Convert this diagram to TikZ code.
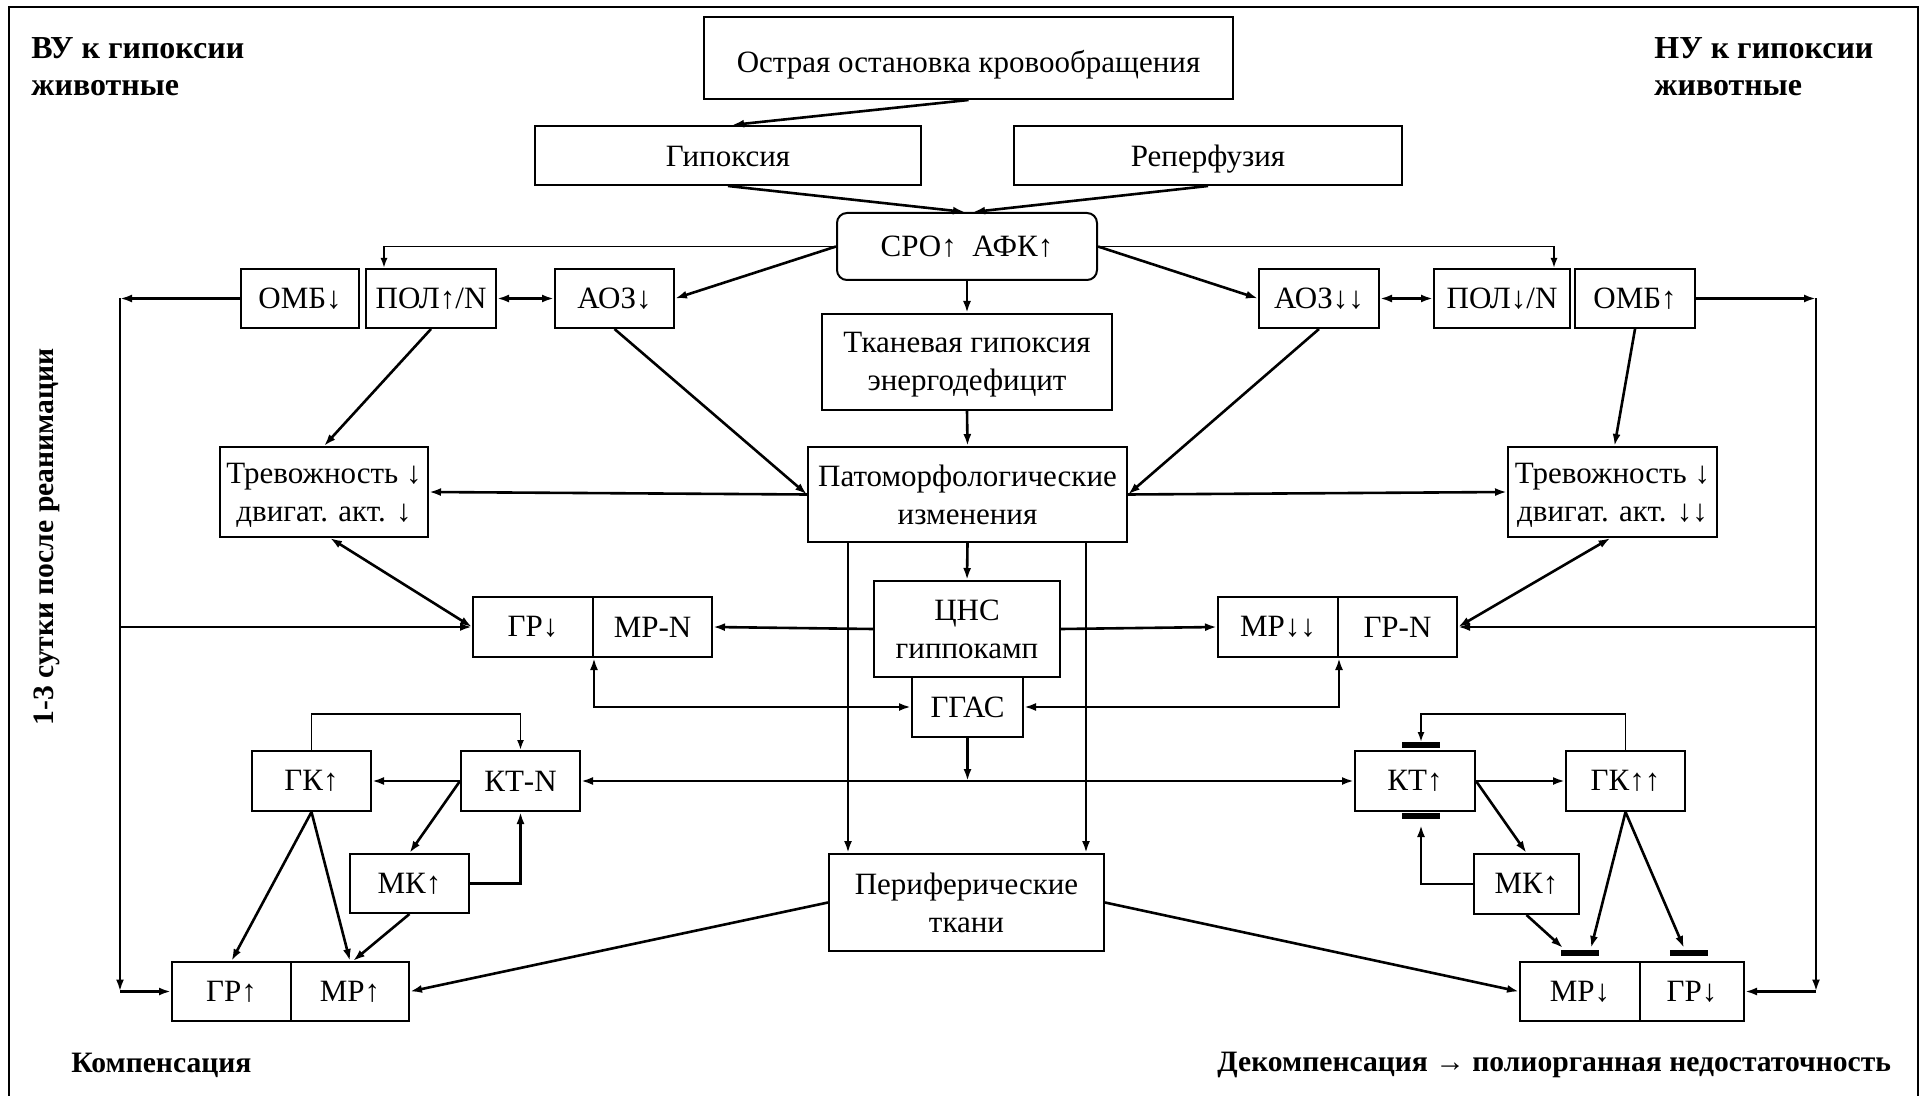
\documentclass[tikz,border=0pt]{standalone}
\usepackage{fontspec}
\setmainfont{Liberation Serif}
\usetikzlibrary{arrows.meta,calc}
\begin{document}
\begin{tikzpicture}[x=0.5pt,y=-0.5pt,
  box/.style={draw,line width=1pt,inner sep=0pt,align=center,font=\fontsize{15.5}{19}\selectfont},
  low/.style={text height=10.6pt,text depth=0pt},
  arr/.style={line width=1.3pt,-{Latex[length=6pt,width=4pt]}},
  tarr/.style={line width=0.9pt,-{Latex[length=5pt,width=3.5pt]}},
  darr/.style={line width=1.3pt,{Latex[length=6pt,width=4pt]}-{Latex[length=6pt,width=4pt]}},
  bar/.style={line width=3pt},
  lbl/.style={font=\fontsize{16}{18.5}\selectfont\bfseries,inner sep=0pt,align=left},
  slbl/.style={font=\fontsize{14.8}{18}\selectfont\bfseries,inner sep=0pt}]
\useasboundingbox (0,0) rectangle (1927,1096);
\fill[white] (0,0) rectangle (1927,1096);
\draw[line width=1pt] (9,1096) -- (9,7) -- (1918,7) -- (1918,1096);

% nodes
\node[box,text height=15pt,text depth=0pt,minimum width=264.5pt,minimum height=41pt] (ostr) at (968.5,58) {Острая остановка кровообращения};
\node[box,low,minimum width=193pt,minimum height=29.5pt] (gip) at (728,155.5) {Гипоксия};
\node[box,low,minimum width=194pt,minimum height=29.5pt] (reper) at (1208,155.5) {Реперфузия};
\node[box,rounded corners=5pt,minimum width=130pt,minimum height=33.5pt] (sro) at (967,246.5) {СРО↑\ \ АФК↑};
\node[box,minimum width=59pt,minimum height=29.5pt] (omb1) at (300,298.5) {ОМБ↓};
\node[box,minimum width=65pt,minimum height=29.5pt] (pol1) at (431,298.5) {ПОЛ↑/N};
\node[box,minimum width=59.5pt,minimum height=29.5pt] (aoz1) at (614.5,298.5) {АОЗ↓};
\node[box,minimum width=60pt,minimum height=29.5pt] (aoz2) at (1319,298.5) {АОЗ↓↓};
\node[box,minimum width=68pt,minimum height=29.5pt] (pol2) at (1502,298.5) {ПОЛ↓/N};
\node[box,minimum width=60pt,minimum height=29.5pt] (omb2) at (1635,298.5) {ОМБ↑};
\node[box,minimum width=145pt,minimum height=48pt] (tkan) at (967,362) {\strut Тканевая гипоксия\\энергодефицит};
\node[box,minimum width=159.5pt,minimum height=47.5pt] (pato) at (967.5,494.5) {Патоморфологические\\изменения};
\node[box,minimum width=104pt,minimum height=45pt] (trev1) at (324,492) {\strut Тревожность ↓\\двигат. акт. ↓};
\node[box,minimum width=104.5pt,minimum height=45pt] (trev2) at (1612.5,492) {\strut Тревожность ↓\\двигат. акт. ↓↓};
\node[box,minimum width=93pt,minimum height=48pt] (cns) at (967,629) {ЦНС\\гиппокамп};
\node[box,minimum width=55.5pt,minimum height=30pt] (ggas) at (967.5,707) {ГГАС};
\node[box,minimum width=60pt,minimum height=30pt] (gr1) at (533,627) {ГР↓};
\node[box,minimum width=59.5pt,minimum height=30pt] (mr1) at (652.5,627) {МР-N};
\node[box,minimum width=60pt,minimum height=30pt] (mr2) at (1278,627) {МР↓↓};
\node[box,minimum width=59.5pt,minimum height=30pt] (grn) at (1397.5,627) {ГР-N};
\node[box,minimum width=59.5pt,minimum height=30pt] (gk1) at (311.5,781) {ГК↑};
\node[box,minimum width=59.5pt,minimum height=30pt] (kt1) at (520.5,781) {КТ-N};
\node[box,minimum width=59.5pt,minimum height=29.5pt] (mk1) at (409.5,883.5) {МК↑};
\node[box,minimum width=59.5pt,minimum height=29.5pt] (grU) at (231.5,991.5) {ГР↑};
\node[box,minimum width=59pt,minimum height=29.5pt] (mrU) at (350,991.5) {МР↑};
\node[box,minimum width=60pt,minimum height=30pt] (kt2) at (1415,781) {КТ↑};
\node[box,minimum width=59.5pt,minimum height=30pt] (gk2) at (1625.5,781) {ГК↑↑};
\node[box,minimum width=52.5pt,minimum height=30pt] (mk2) at (1526.5,884) {МК↑};
\node[box,minimum width=60pt,minimum height=29.5pt] (mrD) at (1580,991.5) {МР↓};
\node[box,minimum width=52pt,minimum height=29.5pt] (grD) at (1692,991.5) {ГР↓};
\node[box,minimum width=137.5pt,minimum height=48.5pt] (peri) at (966.5,902.5) {Периферические\\ткани};

% labels
\node[lbl,anchor=north west] (vu) at (31,37) {ВУ к гипоксии\\животные};
\node[lbl,anchor=north west] (nu) at (1654,37) {НУ к гипоксии\\животные};
\node[slbl,rotate=90] (sut) at (47,537) {1-3 сутки после реанимации};
\node[slbl,anchor=base west] (komp) at (71,1072) {Компенсация};
\node[slbl,anchor=base west] (dekomp) at (1217,1071) {Декомпенсация → полиорганная недостаточность};

% top connectors
\draw[arr] (ostr.south) -- ([xshift=2pt]gip.north);
\draw[arr] (gip.south) -- ([xshift=-1pt]sro.north);
\draw[arr] (reper.south) -- ([xshift=3pt]sro.north);
\draw[arr] (sro.south) -- (tkan.north);
\draw[arr] (sro.west) -- (aoz1.east);
\draw[arr] (sro.east) -- (aoz2.west);
\draw[tarr] (sro.west) -| ([xshift=-23.5pt]pol1.north);
\draw[tarr] (sro.east) -| ([xshift=26pt]pol2.north);
\draw[darr] (pol1.east) -- (aoz1.west);
\draw[darr] (aoz2.east) -- (pol2.west);

% side buses
\coordinate (busL) at (120,298.5);
\coordinate (busR) at (1816,298.5);
\draw[arr] (omb1.west) -- (busL);
\draw[arr] (busL) -- (busL |- grU.west);
\draw[arr] (busL |- gr1.west) -- (gr1.west);
\draw[arr] (busL |- grU.west) -- (grU.west);
\draw[arr] (omb2.east) -- (busR);
\draw[arr] (busR) -- (busR |- grD.east);
\draw[arr] (busR |- grn.east) -- (grn.east);
\draw[arr] (busR |- grD.east) -- (grD.east);

% middle
\draw[arr] (pol1.south) -- (trev1.north);
\draw[arr] (aoz1.south) -- (pato.west);
\draw[arr] (aoz2.south) -- (pato.east);
\draw[arr] (omb2.south) -- ([xshift=1pt]trev2.north);
\draw[arr] (tkan.south) -- (pato.north);
\draw[arr] (pato.west) -- (trev1.east);
\draw[arr] (pato.east) -- (trev2.west);
\draw[arr] (pato.south) -- (cns.north);
\coordinate (pl) at ([xshift=20.5pt]pato.south west);
\coordinate (pr) at ([xshift=-21pt]pato.south east);
\draw[arr] (pl) -- (pl |- peri.north);
\draw[arr] (pr) -- (pr |- peri.north);
\draw[arr] (cns.west) -- (mr1.east);
\draw[arr] (cns.east) -- (mr2.west);
\draw[darr] (ggas.west) -| (gr1.south east);
\draw[darr] (ggas.east) -| (mr2.south east);
\draw[darr] (gr1.west) -- ([xshift=3pt]trev1.south);
\draw[darr] (grn.east) -- ([xshift=-1pt]trev2.south);
\draw[arr] (ggas.south) -- (ggas.south |- kt1.east);
\draw[darr] (kt1.east) -- (kt2.west);

% left cluster
\draw[tarr] (gk1.north) -- ++(0,-36) -| (kt1.north);
\draw[arr] (kt1.west) -- (gk1.east);
\draw[arr] (kt1.west) -- (mk1.north);
\draw[arr] (mk1.east) -| (kt1.south);
\draw[arr] (gk1.south) -- (grU.north);
\draw[arr] (gk1.south) -- (mrU.north);
\draw[arr] (mk1.south) -- ([xshift=1.5pt]mrU.north);
\draw[arr] (peri.west) -- (mrU.east);

% right cluster
\coordinate (ktT) at (1421,742);
\coordinate (ktB) at (1421,825);
\draw[bar] (1402,745) -- (1440,745);
\draw[bar] (1402,816) -- (1440,816);
\draw[tarr] (gk2.north) -- ++(0,-36) -| (ktT);
\draw[arr] (mk2.west) -| (ktB);
\draw[arr] (kt2.east) -- (gk2.west);
\draw[arr] (kt2.east) -- (mk2.north);
\coordinate (mrT1) at (1563,948);
\coordinate (mrT2) at (1591,948);
\coordinate (grT) at (1684,948);
\draw[bar] (1561,953) -- (1599,953);
\draw[bar] (1670,953) -- (1708,953);
\draw[arr] (gk2.south) -- (mrT2);
\draw[arr] (gk2.south) -- (grT);
\draw[arr] (mk2.south) -- (mrT1);
\draw[arr] (peri.east) -- (mrD.west);
\end{tikzpicture}
\end{document}
